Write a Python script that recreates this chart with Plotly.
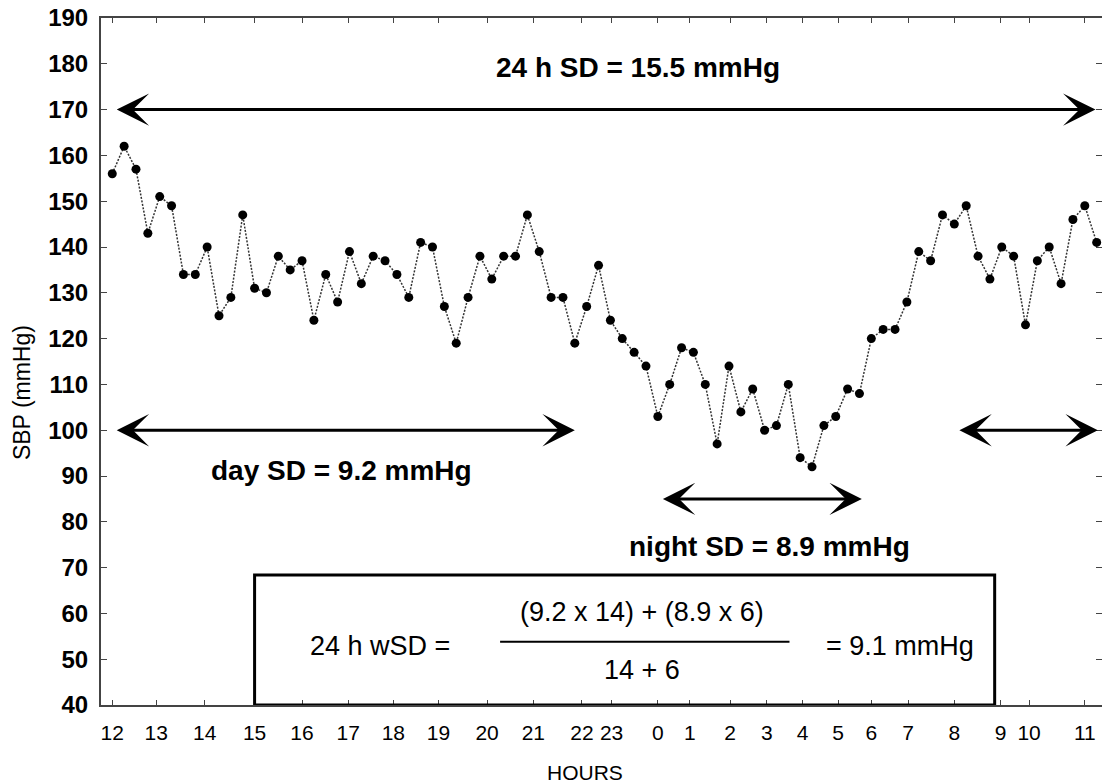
import plotly.graph_objects as go

# Systolic blood pressure readings across a 24 h ambulatory recording (mmHg)
sbp = [156, 162, 157, 143, 151, 149, 134, 134, 140, 125, 129, 147, 131, 130, 138, 135,
       137, 124, 134, 128, 139, 132, 138, 137, 134, 129, 141, 140, 127, 119, 129, 138,
       133, 138, 138, 147, 139, 129, 129, 119, 127, 136, 124, 120, 117, 114, 103, 110,
       118, 117, 110, 97, 114, 104, 109, 100, 101, 110, 94, 92, 101, 103, 109, 108,
       120, 122, 122, 128, 139, 137, 147, 145, 149, 138, 133, 140, 138, 123, 137, 140,
       132, 146, 149, 141]
reading_no = list(range(len(sbp)))

# Clock hours and the reading number at which each hour starts
hour_labels = ["12", "13", "14", "15", "16", "17", "18", "19", "20", "21", "22", "23",
               "0", "1", "2", "3", "4", "5", "6", "7", "8", "9", "10", "11"]
hour_pos = [0, 3.7, 7.8, 12, 16, 19.9, 23.7, 27.5, 31.6, 35.5, 39.6, 42.1,
            46, 48.7, 52.1, 55.2, 58.2, 61.2, 64, 67.1, 71, 74.9, 77.3, 82.0]

# Standard deviations shown on the chart
sd_24h = 15.5
sd_day = 9.2
sd_night = 8.9
day_hours = 14
night_hours = 6
wsd = 9.1

# Extent of each period (reading numbers) and level of the arrows (mmHg)
span_24h = (0.25, 82.9, 170)
span_day = (0.25, 39.0, 100)
span_night = (46.3, 63.2, 85)
span_morning = (71.3, 83.1, 100)

AX = "#444444"
SANS = "Liberation Sans, Arial, sans-serif"
Y_RANGE = [40, 190]

fig = go.Figure()
fig.add_trace(go.Scatter(
    x=reading_no, y=sbp, mode="lines+markers",
    line=dict(color="#333333", width=1.5, dash="2px,1.5px"),
    marker=dict(size=9, color="black"),
    hoverinfo="skip",
))
# invisible trace carrying the right-hand tick marks
fig.add_trace(go.Scatter(x=[reading_no[0]], y=[sbp[0]], yaxis="y2", mode="markers",
                         marker=dict(opacity=0), hoverinfo="skip"))


def double_arrow(span):
    x0, x1, y = span
    return dict(x=x1, y=y, ax=x0, ay=y, xref="x", yref="y", axref="x", ayref="y",
                text="", showarrow=True, arrowside="end+start",
                arrowhead=3, startarrowhead=3, arrowsize=1.8, startarrowsize=1.8,
                arrowwidth=3, arrowcolor="black")


annotations = [double_arrow(s) for s in (span_24h, span_day, span_night, span_morning)]

bold = dict(family=SANS, size=28, color="black", weight="bold")
annotations += [
    dict(x=44.3, y=179.3, xref="x", yref="y", showarrow=False,
         text=f"24 h SD = {sd_24h} mmHg", font=bold),
    dict(x=19.3, y=91.3, xref="x", yref="y", showarrow=False,
         text=f"day SD = {sd_day} mmHg", font=bold),
    dict(x=55.4, y=74.7, xref="x", yref="y", showarrow=False,
         text=f"night SD = {sd_night} mmHg", font=bold),
]

formula_font = dict(family=SANS, size=27, color="black")
annotations += [
    dict(x=22.6, y=52.8, xref="x", yref="y", showarrow=False,
         text="24 h wSD =", font=formula_font),
    dict(x=44.7, y=60.2, xref="x", yref="y", showarrow=False,
         text=f"({sd_day} x {day_hours}) + ({sd_night} x {night_hours})", font=formula_font),
    dict(x=44.7, y=47.7, xref="x", yref="y", showarrow=False,
         text=f"{day_hours} + {night_hours}", font=formula_font),
    dict(x=66.4, y=52.8, xref="x", yref="y", showarrow=False,
         text=f"= {wsd} mmHg", font=formula_font),
    dict(x=-0.079, y=108.3, xref="paper", yref="y", showarrow=False, textangle=-90,
         xanchor="center", yanchor="middle",
         text="SBP (mmHg)", font=dict(family=SANS, size=23, color="black")),
    dict(x=0.484, y=-0.098, xref="paper", yref="paper", showarrow=False,
         xanchor="center", yanchor="middle",
         text="HOURS", font=dict(family=SANS, size=21, color="black")),
]

shapes = [
    # formula box
    dict(type="rect", xref="x", yref="y", x0=12.0, x1=74.4, y0=40, y1=68.4,
         line=dict(color="black", width=3)),
    # fraction bar
    dict(type="line", xref="x", yref="y", x0=32.7, x1=57.1, y0=53.8, y1=53.8,
         line=dict(color="black", width=2)),
]

fig.update_layout(
    width=1102, height=784,
    margin=dict(l=101, r=0, t=18, b=79),
    paper_bgcolor="white", plot_bgcolor="white",
    showlegend=False,
    annotations=annotations,
    shapes=shapes,
    xaxis=dict(
        range=[-0.95, 83.45], tickmode="array", tickvals=hour_pos, ticktext=hour_labels,
        ticks="inside", ticklen=5, tickwidth=1, tickcolor=AX,
        showline=True, linecolor=AX, linewidth=2, mirror="ticks",
        showgrid=False, zeroline=False, ticklabelstandoff=8,
        tickfont=dict(family=SANS, size=21, color="black"),
    ),
    yaxis=dict(
        range=Y_RANGE, tickmode="linear", tick0=40, dtick=10,
        ticks="inside", ticklen=6, tickwidth=1, tickcolor=AX,
        showline=True, linecolor=AX, linewidth=2, mirror=False,
        showgrid=False, zeroline=False, ticklabelstandoff=6,
        tickfont=dict(family=SANS, size=24, color="black", weight="bold"),
    ),
    yaxis2=dict(
        range=Y_RANGE, overlaying="y", side="right", tickmode="linear", tick0=40, dtick=10,
        ticks="inside", ticklen=6, tickwidth=1, tickcolor=AX, showticklabels=False,
        showline=False, showgrid=False, zeroline=False,
    ),
)

fig.write_html("out.html")
